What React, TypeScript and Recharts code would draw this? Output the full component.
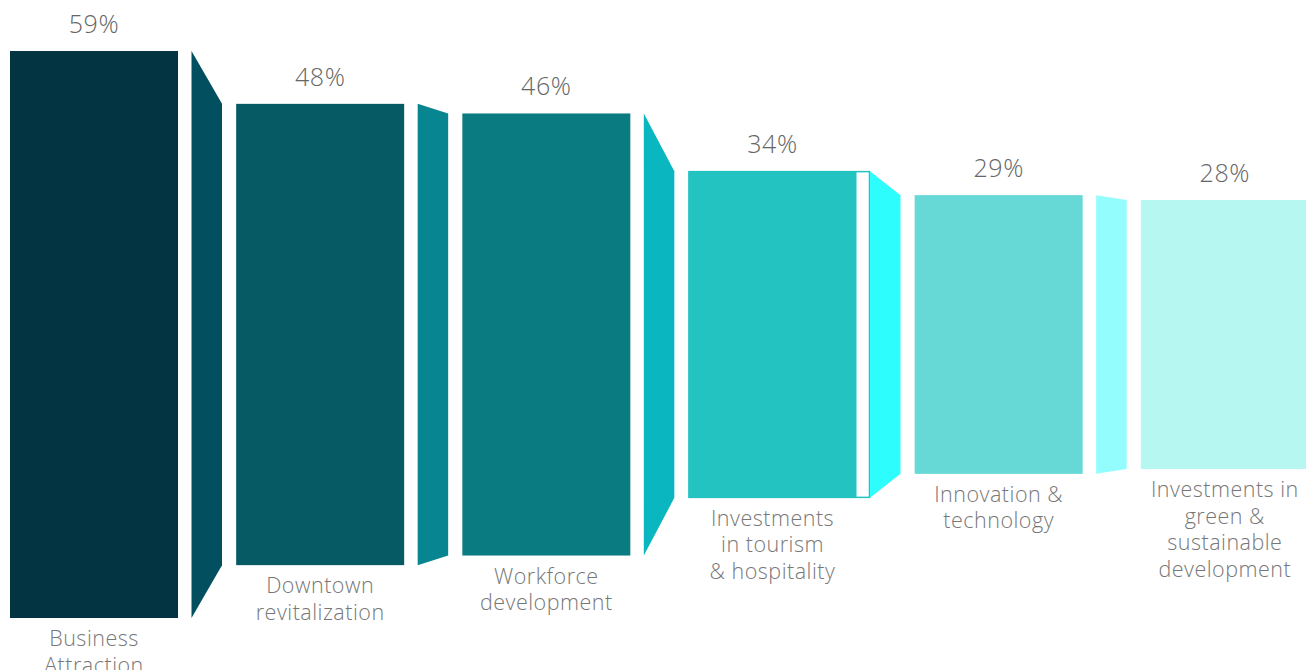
import { BarChart, Bar, XAxis, YAxis, LabelList } from "recharts";

// survey shares per economic development priority (percent of respondents)
const categories = [
  "Business\nAttraction",
  "Downtown\nrevitalization",
  "Workforce\ndevelopment",
  "Investments\nin tourism\n& hospitality",
  "Innovation &\ntechnology",
  "Investments in\ngreen &\nsustainable\ndevelopment",
];
const shares = [59, 48, 46, 34, 29, 28];
const blockColors = ["#023541", "#055a63", "#0a7b80", "#22c3c1", "#66d9d6", "#b6f7f2"];
const linkColors = ["#024f60", "#078591", "#0ab6c0", "#2efdfd", "#93fdfd", "#b6f7f2"];

const MAX = Math.max(...shares);
const MID = MAX / 2;

const data = shares.map((v, i) => ({
  idx: i,
  name: categories[i],
  share: v,
  next: i < shares.length - 1 ? shares[i + 1] : null,
  // centred range so every block sits on the same middle line
  range: [MID - v / 2, MID + v / 2],
}));

const BLOCK_W = 168;
const LINK_GAP = 13.5;
const FONT = "'Open Sans', Lato, sans-serif";

function FunnelStep(props: any) {
  const { x, y, width, height, payload } = props;
  const i = payload.idx;
  const shapes = [];
  if (i === 3) {
    // the tourism block has a hollow strip on its right edge in the original
    shapes.push(
      <rect key="o" x={x + 0.5} y={y + 0.5} width={BLOCK_W + LINK_GAP - 1} height={height - 1}
        fill="#fff" stroke={blockColors[i]} strokeWidth={1.5} />
    );
  }
  shapes.push(<rect key="b" x={x} y={y} width={BLOCK_W} height={height} fill={blockColors[i]} />);
  if (payload.next != null) {
    const pxPerUnit = height / payload.share;
    const nh = payload.next * pxPerUnit;
    const cy = y + height / 2;
    const lx = x + BLOCK_W + LINK_GAP;
    const rx = x + width;
    const pts = `${lx},${y} ${rx},${cy - nh / 2} ${rx},${cy + nh / 2} ${lx},${y + height}`;
    shapes.push(<polygon key="l" points={pts} fill={linkColors[i]} />);
  }
  return <g>{shapes}</g>;
}

function ShareLabel(props: any) {
  const { x, y, index } = props;
  return (
    <text x={x + BLOCK_W / 2} y={y - 18} textAnchor="middle" fontFamily={FONT} fontWeight={300}
      fontSize={25} letterSpacing={0.6} fill="#666666">
      {shares[index]}%
    </text>
  );
}

function NameLabel(props: any) {
  const { x, y, height, index } = props;
  const lines = categories[index].split("\n");
  return (
    <g>
      {lines.map((ln, k) => (
        <text key={k} x={x + BLOCK_W / 2} y={y + height + 28 + k * 26.5} textAnchor="middle"
          fontFamily={FONT} fontWeight={300} fontSize={21.5} letterSpacing={0.5} fill="#777777">
          {ln}
        </text>
      ))}
    </g>
  );
}

export default function App() {
  return (
    <div style={{ position: "absolute", left: 0, top: 0, width: 1306, height: 670, overflow: "hidden", background: "#fff" }}>
      <BarChart width={1360} height={670} data={data} barSize={212}
        margin={{ top: 51, right: 0, bottom: 52, left: 3 }}>
        <XAxis dataKey="name" hide />
        <YAxis hide domain={[0, MAX]} />
        <Bar dataKey="range" shape={FunnelStep} isAnimationActive={false}>
          <LabelList dataKey="range" content={ShareLabel} />
          <LabelList dataKey="range" content={NameLabel} />
        </Bar>
      </BarChart>
    </div>
  );
}
